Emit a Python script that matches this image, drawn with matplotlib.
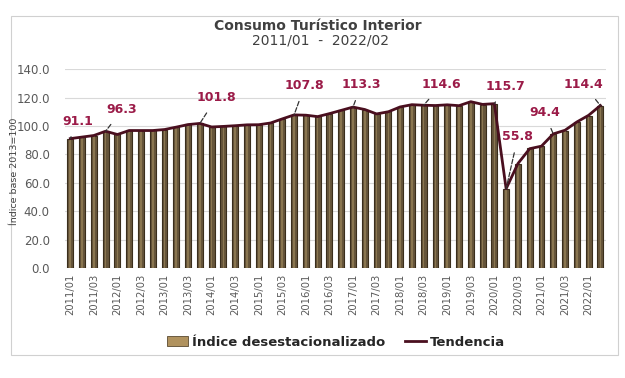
import matplotlib
matplotlib.use("Agg")
import matplotlib.pyplot as plt
from matplotlib.patches import Patch, Rectangle
from matplotlib.lines import Line2D

# quarters 2011/01 .. 2022/02
years = list(range(2011, 2023))
periods = [f"{y}/{q:02d}" for y in years for q in range(1, 5)][:46]

# seasonally adjusted index (bars)
desestacionalizado = [
    91.1, 92.4, 93.1, 96.3, 94.2, 96.9, 96.7, 96.9,
    97.4, 99.3, 101.1, 101.8, 99.2, 99.8, 100.1, 100.9,
    100.8, 102.3, 104.8, 107.8, 107.5, 106.8, 108.5, 111.2,
    113.3, 111.4, 108.4, 110.3, 113.6, 114.8, 114.6, 114.5,
    114.8, 114.1, 117.2, 115.0, 115.7, 55.8, 73.0, 84.3,
    85.6, 94.4, 96.8, 103.0, 107.3, 114.4,
]

# trend line
tendencia = [
    91.1, 92.2, 93.3, 96.3, 94.0, 96.8, 96.8, 96.8,
    97.5, 99.2, 101.0, 101.8, 99.3, 99.7, 100.2, 100.8,
    100.9, 102.1, 105.0, 107.8, 107.6, 106.6, 108.7, 111.0,
    113.3, 111.6, 108.5, 110.0, 113.4, 115.0, 114.6, 114.4,
    114.9, 114.3, 117.1, 115.2, 115.7, 55.8, 73.5, 84.0,
    85.8, 94.4, 97.0, 102.8, 107.5, 114.4,
]

# annotated points: (index, label x, label y)
annotations = [
    (0, 0.6, 103.5),
    (3, 4.4, 111.5),
    (11, 12.4, 119.8),
    (19, 19.9, 128.4),
    (24, 24.7, 129.0),
    (30, 31.5, 129.0),
    (36, 36.9, 127.6),
    (37, 38.0, 92.4),
    (41, 40.25, 109.3),
    (45, 43.6, 129.0),
]

plt.rcParams['font.family'] = ['DejaVu Sans']

fig = plt.figure(figsize=(6.25, 3.78), dpi=100)
ax = fig.add_axes([0.104, 0.291, 0.866, 0.526])

x = list(range(len(periods)))
ax.bar(x, desestacionalizado, width=0.5, color='#66553a', edgecolor='#3a2e1c',
       linewidth=0.8, zorder=2)
ax.bar(x, desestacionalizado, width=0.14, color='#8a7650', linewidth=0, zorder=2)
ax.plot(x, tendencia, color='#4a0f1f', linewidth=2, zorder=3)

for i, tx, ty in annotations:
    ax.annotate(f"{tendencia[i]:.1f}", xy=(i, tendencia[i]), xytext=(tx, ty),
                ha='center', va='center', fontsize=9, fontweight='bold',
                color='#9b1b48', zorder=4,
                arrowprops=dict(arrowstyle='-', linestyle='--', color='#333333',
                                lw=0.9, shrinkA=5, shrinkB=0))

ax.set_ylim(0, 140)
ax.set_xlim(-0.45, 45.5)
ax.set_yticks(range(0, 141, 20))
ax.set_yticklabels([f"{v:.1f}" for v in range(0, 141, 20)])
ax.set_xticks(x[::2])
ax.set_xticklabels(periods[::2], rotation=90)
ax.tick_params(axis='y', length=0, pad=11, labelsize=8.5, labelcolor='#595959')
ax.tick_params(axis='x', length=0, pad=4, labelsize=7.2, labelcolor='#595959')
ax.grid(axis='y', color='#d9d9d9', linewidth=0.8, zorder=0)
ax.set_axisbelow(True)
for s in ax.spines.values():
    s.set_visible(False)

fig.text(15 / 625, 1 - 171 / 378, "Índice base 2013=100", rotation=90,
         ha='center', va='center', fontsize=6.8, color='#404040')

fig.text(318 / 625, 1 - 26 / 378, "Consumo Turístico Interior", ha='center',
         va='center', fontsize=10, fontweight='bold', color='#404040')
fig.text(320 / 625, 1 - 41 / 378, "2011/01  -  2022/02", ha='center',
         va='center', fontsize=10, color='#404040')

handles = [Patch(facecolor='#b0925e', edgecolor='#5a4a30', linewidth=0.6),
           Line2D([0], [0], color='#4a0f1f', linewidth=2)]
fig.legend(handles, ["Índice desestacionalizado", "Tendencia"], ncol=2,
           loc='center', bbox_to_anchor=(0.538, 1 - 342 / 378), frameon=False,
           prop={'weight': 'bold', 'size': 9.5}, handlelength=1.6,
           handletextpad=0.3, columnspacing=1.5, labelcolor='#262626')

fig.patches.append(Rectangle((11 / 625, 1 - 355 / 378), 607 / 625, 339 / 378,
                             transform=fig.transFigure, fill=False,
                             edgecolor='#d0d0d0', linewidth=0.8))

fig.savefig("out.png", dpi=100)
